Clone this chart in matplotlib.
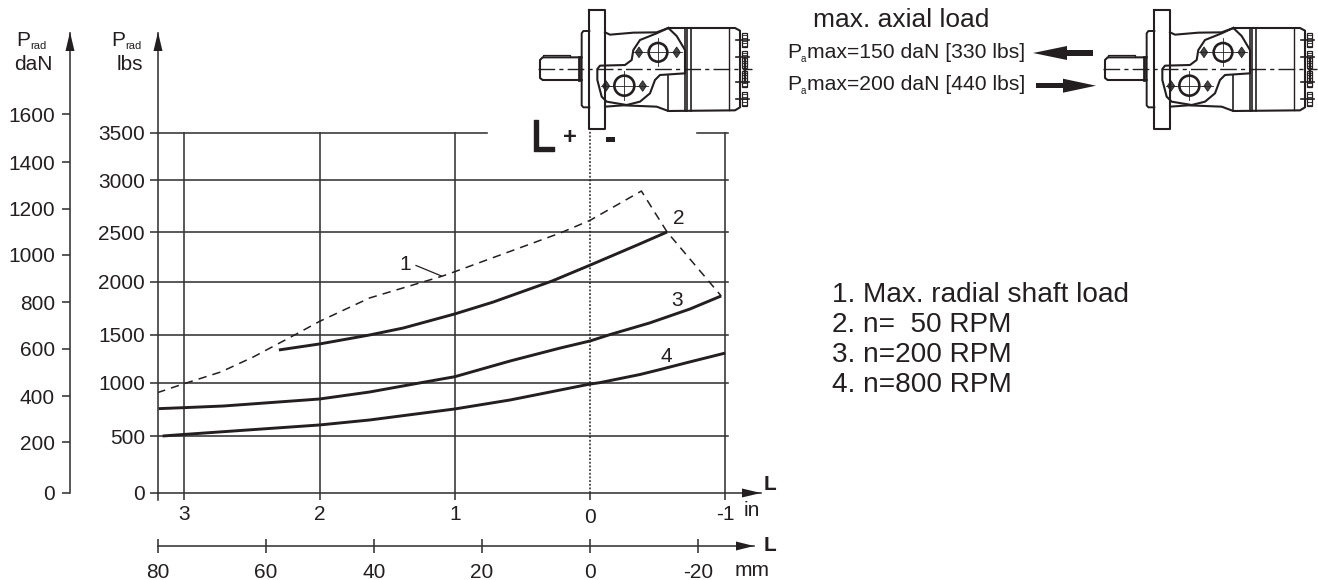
import numpy as np
import matplotlib
matplotlib.use("Agg")
import matplotlib.pyplot as plt
import matplotlib.patheffects as pe
from matplotlib.patches import Polygon, Circle, Rectangle
from matplotlib.transforms import offset_copy

plt.rcParams['font.family'] = ['Liberation Sans', 'DejaVu Sans']
INK = '#231f20'

# ---------- data ----------
lbs_ticks = [0, 500, 1000, 1500, 2000, 2500, 3000, 3500]
dan_ticks = [0, 200, 400, 600, 800, 1000, 1200, 1400, 1600]
in_ticks = [3, 2, 1, 0, -1]
mm_ticks = [80, 60, 40, 20, 0, -20]

max_x = [3.20, 3.01, 2.73, 2.49, 2.17, 2.00, 1.63, 1.09, 1.00, 0.22, 0.00, -0.38, -0.57, -0.97]
max_y = [908, 990, 1114, 1269, 1507, 1625, 1845, 2055, 2099, 2490, 2612, 2894, 2500, 1864]

n50_x = [2.30, 2.00, 1.63, 1.38, 1.00, 0.72, 0.28, 0.00, -0.35, -0.57]
n50_y = [1342, 1404, 1497, 1563, 1695, 1805, 2005, 2165, 2369, 2500]

n200_x = [3.19, 3.01, 2.71, 2.00, 1.63, 1.21, 1.00, 0.59, 0.22, 0.00, -0.15, -0.44, -0.74, -0.97]
n200_y = [758, 767, 783, 849, 915, 1013, 1065, 1228, 1362, 1435, 1502, 1610, 1742, 1864]

n800_x = [3.16, 3.01, 2.00, 1.63, 1.00, 0.59, 0.22, 0.00, -0.07, -0.37, -0.52, -0.72, -1.00]
n800_y = [500, 514, 604, 651, 755, 840, 934, 990, 1003, 1088, 1140, 1212, 1310]

legend_lines = ['1. Max. radial shaft load', '2. n=  50 RPM', '3. n=200 RPM', '4. n=800 RPM']

# The printed load axes are not evenly spaced: height above the baseline, in pixels
lbs_cal = [0, 500, 1000, 1500, 2000, 2500, 3000, 3500, 4600]
lbs_h = [0, 57, 110, 158.3, 211.5, 261, 313, 360, 460]
dan_cal = [0, 200, 400, 600, 800, 1000, 1200, 1400, 1600, 2000]
dan_h = [0, 51, 97, 144, 191, 238, 284, 331, 379, 460]

W, H = 1318, 580
fig = plt.figure(figsize=(W / 100, H / 100), dpi=100)


def px_axes(x0, y_top, x1, y_bot):
    return fig.add_axes([x0 / W, 1 - y_bot / H, (x1 - x0) / W, (y_bot - y_top) / H], facecolor='none')


def piecewise(ax, cal, h):
    ax.set_yscale('function', functions=(
        lambda v: np.interp(v, cal, h), lambda p: np.interp(p, h, cal)))


# ---------- overlay in pixel coordinates (annotations, drawing) ----------
ov = fig.add_axes([0, 0, 1, 1], facecolor='none', zorder=5)
ov.set_xlim(0, W)
ov.set_ylim(H, 0)
ov.axis('off')


def txt(x, y, s, size=15, ha='center', va='center', **kw):
    return ov.text(x, y, s, fontsize=size, ha=ha, va=va, color=INK, **kw)


def head(tip, base, half):
    """Arrow head: tip and base centre as (x, y)."""
    tx, ty = tip
    bx, by = base
    if tx == bx:
        pts = [(tx, ty), (bx - half, by), (bx + half, by)]
    else:
        pts = [(tx, ty), (bx, by - half), (bx, by + half)]
    ov.add_patch(Polygon(pts, closed=True, fc=INK, ec='none'))


# ---------- main chart (inches / lbs) ----------
PX_IN = 135.25
ax_left, ax_right, ax_top, ax_bot = 158, 761, 33, 493
ax = px_axes(ax_left, ax_top, ax_right, ax_bot)
ax.set_xlim((590 - ax_left) / PX_IN, (590 - ax_right) / PX_IN)
piecewise(ax, lbs_cal, lbs_h)
ax.set_ylim(0, 4600)

grid_kw = dict(color='#333333', lw=1.15)
x_l = ax.get_xlim()[0]
for v in lbs_ticks[1:-1]:
    ax.plot([x_l, -1.02], [v, v], **grid_kw)
ax.plot([x_l, 0.763], [3500, 3500], **grid_kw)
ax.plot([-0.79, -1.02], [3500, 3500], **grid_kw)
for v in [3, 2, 1, -1]:
    ax.plot([v, v], [0, 3500], **grid_kw)
ax.plot([0, 0], [0, 3530], color=INK, lw=1.1, ls=(0, (1.2, 1.2)))

ax.plot(max_x, max_y, color=INK, lw=1.1, ls=(0, (5.5, 4)))
ax.plot(n50_x, n50_y, color=INK, lw=2.1, solid_capstyle='butt')
ax.plot(n200_x, n200_y, color=INK, lw=2.1, solid_capstyle='butt')
ax.plot(n800_x, n800_y, color=INK, lw=2.1, solid_capstyle='butt')

for s in ['top', 'right']:
    ax.spines[s].set_visible(False)
for s in ['left', 'bottom']:
    ax.spines[s].set_color('#333333')
    ax.spines[s].set_linewidth(1.15)
ax.set_yticks(lbs_ticks)
ax.set_yticklabels([str(v) for v in lbs_ticks], fontsize=15, color=INK)
ax.set_xticks(in_ticks)
ax.set_xticklabels([str(v) for v in in_ticks], fontsize=15, color=INK)
ax.minorticks_off()
ax.tick_params(axis='y', length=5.8, width=1.15, color='#333333', pad=3.5)
ax.tick_params(axis='x', length=5.0, width=1.15, color='#333333', pad=3.5)
ov.plot([158, 158], [493, 500], color='#333333', lw=1.15)
ax.get_xticklabels()[3].set_transform(
    offset_copy(ax.get_xticklabels()[3].get_transform(), fig=fig, y=-2, units='points'))

# ---------- daN axis ----------
ax2 = px_axes(70, ax_top, 72, ax_bot)
piecewise(ax2, dan_cal, dan_h)
ax2.set_ylim(0, 2000)
ax2.set_xticks([])
for s in ['top', 'right', 'bottom']:
    ax2.spines[s].set_visible(False)
ax2.spines['left'].set_color('#333333')
ax2.spines['left'].set_linewidth(1.15)
ax2.set_yticks(dan_ticks)
ax2.set_yticklabels([str(v) for v in dan_ticks], fontsize=15, color=INK)
ax2.minorticks_off()
ax2.tick_params(axis='y', length=5.8, width=1.15, color='#333333', pad=5)

# ---------- mm axis ----------
PX_MM = 5.4
ax3 = px_axes(158, 540, 754, 546)
ax3.set_xlim((590 - 158) / PX_MM, (590 - 754) / PX_MM)
ax3.set_yticks([])
for s in ['top', 'right', 'left']:
    ax3.spines[s].set_visible(False)
ax3.spines['bottom'].set_color('#333333')
ax3.spines['bottom'].set_linewidth(1.15)
ax3.set_xticks(mm_ticks)
ax3.set_xticklabels([str(v) for v in mm_ticks], fontsize=15, color=INK)
ax3.tick_params(axis='x', length=9.5, direction='inout', width=1.15, color='#333333', pad=7.5)

# ---------- arrow heads ----------
head((70, 32), (70, 51), 4.5)
head((158, 32), (158, 51), 4.5)
head((761, 493), (742, 493), 4.5)
head((754, 546), (736, 546), 4.5)

# ---------- axis titles ----------
for x_p, x_s, x_u, unit in [(23, 38, 33, 'daN'), (118, 133, 130, 'lbs')]:
    txt(x_p, 41, 'P', 15)
    txt(x_s, 46, 'rad', 8)
    txt(x_u, 64, unit, 15)
txt(770, 484.5, 'L', 15, fontweight='bold')
txt(770, 545.5, 'L', 15, fontweight='bold')
txt(752, 510, 'in', 15)
txt(752, 570.5, 'mm', 15)

# ---------- curve numbers ----------
txt(405, 265, '1', 15)
txt(679, 218, '2', 15)
txt(677, 300, '3', 15)
txt(666, 356, '4', 15)
ov.plot([416, 441.5], [265.5, 276], color=INK, lw=0.9)

# ---------- legend text ----------
for i, s in enumerate(legend_lines):
    txt(832, 295 + 30 * i, s, 20.2, ha='left')

# ---------- axial load ----------
txt(813, 20, 'max. axial load', 19, ha='left')
for y, s in [(53, 'max=150 daN [330 lbs]'), (85, 'max=200 daN [440 lbs]')]:
    txt(787, y, 'P', 15.2, ha='left')
    txt(801, y + 6, 'a', 7, ha='left')
    txt(807, y, s, 15.2, ha='left')
ov.add_patch(Rectangle((1066, 50.4), 27, 5.2, fc=INK, ec='none'))
head((1033, 53), (1067, 53), 7)
ov.add_patch(Rectangle((1036, 83), 28, 5.2, fc=INK, ec='none'))
head((1096, 85.7), (1063, 85.7), 7)

# ---------- L + - marks ----------
t = txt(543, 139, 'L', 32)
t.set_path_effects([pe.withStroke(linewidth=1.0, foreground=INK)])
txt(570, 138, '+', 17, fontweight='bold')
ov.add_patch(Rectangle((606, 137), 9, 4.5, fc=INK, ec='none'))


# ---------- motor sketch ----------
def motor(dx):
    kw = dict(color=INK, lw=1.0, solid_joinstyle='round')

    def X(u):
        return 500 + u / 3 + dx

    def line(pts, **extra):
        d = dict(kw)
        d.update(extra)
        a = np.array(pts, float)
        ov.plot(X(a[:, 0]), a[:, 1] / 3, **d)

    line([(268, 30), (315, 30), (315, 388), (268, 388), (268, 30)], lw=1.5)
    line([(268, 93), (250, 93), (245, 100), (245, 316), (250, 322), (268, 322)], lw=1.4)
    line([(245, 172), (128, 172), (120, 180), (120, 234), (128, 240), (245, 240)], lw=1.5)
    line([(130, 172), (130, 165), (210, 165), (210, 172)], lw=0.9)
    line([(237, 172), (237, 240)], lw=2.0)
    line([(315, 97), (330, 104), (400, 98), (470, 97), (505, 84), (705, 84),
          (720, 92), (720, 322), (705, 331), (505, 333), (470, 320), (370, 316), (315, 320)], lw=1.5)
    line([(505, 84), (530, 108), (555, 150), (555, 220), (480, 225), (465, 240),
          (450, 280), (420, 305), (380, 315), (320, 305), (305, 290), (292, 240),
          (292, 207), (300, 197), (375, 195), (395, 180), (400, 150), (420, 120),
          (470, 100), (505, 84)], lw=1.5)
    line([(505, 225), (505, 333)], lw=1.2)
    line([(555, 84), (555, 150)], lw=1.2)
    line([(555, 220), (555, 333)], lw=1.2)
    line([(561, 84), (561, 333)], lw=1.2)
    line([(572, 84), (572, 333)], lw=1.2)
    line([(688, 86), (688, 331)], lw=1.0)
    line([(115, 208), (755, 208)], lw=1.0, ls=(0, (12, 3, 3, 3)))
    for cx, cy, r, dr in [(474, 157, 28, 42), (373, 257, 30, 44)]:
        ov.add_patch(Circle((X(cx), cy / 3), r / 3, fc='none', ec=INK, lw=1.9))
        line([(cx - dr, cy), (cx + dr, cy)], lw=0.6)
        line([(cx, cy - dr), (cx, cy + dr)], lw=0.6)
    for cx, cy in [(417, 157), (530, 157), (318, 258), (428, 258)]:
        ov.add_patch(Polygon([(X(cx - 11), cy / 3), (X(cx), (cy - 16) / 3),
                              (X(cx + 11), cy / 3), (X(cx), (cy + 16) / 3)],
                             closed=True, fc='#444444', ec=INK, lw=0.6))
        line([(cx - 16, cy), (cx + 16, cy)], lw=0.6)
    # end cover teeth and bolts
    for v0, v1 in [(100, 140), (152, 205), (212, 262), (276, 318)]:
        ov.add_patch(Rectangle((X(725), v0 / 3), 15 / 3, (v1 - v0) / 3,
                               fc='white', ec=INK, lw=0.9))
        for v in range(v0 + 6, v1, 8):
            line([(725, v), (740, v)], lw=0.6)
    for v in [120, 170, 245, 297]:
        line([(708, v), (747, v)], lw=1.2)
    line([(735, 175), (735, 245)], lw=1.7)


motor(0)
motor(565)

fig.savefig('out.png', dpi=100)
